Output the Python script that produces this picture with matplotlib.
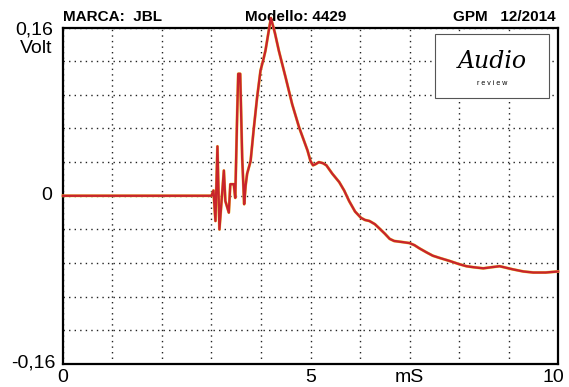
"""Impulse response plot (Audio Review style measurement sheet)."""

import matplotlib.pyplot as plt
from matplotlib.patches import Rectangle

plt.rcParams["font.family"] = ["Liberation Sans", "DejaVu Sans"]

# time in ms, signal in volt
time_ms = [0.0, 3.0, 3.04, 3.08, 3.12, 3.16, 3.25, 3.28, 3.35, 3.38, 3.45, 3.48,
           3.52, 3.54, 3.58, 3.62, 3.66, 3.69, 3.72, 3.79, 3.85, 3.92, 3.99,
           4.05, 4.09, 4.15, 4.2, 4.28, 4.36, 4.5, 4.63, 4.77, 4.94, 5.0, 5.05,
           5.1, 5.17, 5.25, 5.32, 5.44, 5.58, 5.68, 5.78, 5.9, 6.02, 6.1, 6.19,
           6.3, 6.39, 6.5, 6.6, 6.69, 6.85, 7.0, 7.1, 7.2, 7.35, 7.47, 7.6,
           7.81, 8.0, 8.15, 8.3, 8.49, 8.65, 8.82, 9.0, 9.09, 9.3, 9.5, 9.75,
           10.0]
volt = [0.0, 0.0, 0.005, -0.024, 0.047, -0.032, 0.024, -0.005, -0.016, 0.011,
        0.011, -0.002, 0.08, 0.116, 0.116, 0.036, -0.008, 0.01, 0.021, 0.033,
        0.062, 0.093, 0.119, 0.130, 0.138, 0.155, 0.169, 0.155, 0.138, 0.112,
        0.087, 0.065, 0.043, 0.033, 0.029, 0.030, 0.032, 0.031, 0.029, 0.021,
        0.013, 0.005, -0.005, -0.015, -0.021, -0.023, -0.024, -0.027, -0.031,
        -0.036, -0.041, -0.043, -0.044, -0.045, -0.047, -0.050, -0.054,
        -0.057, -0.059, -0.062, -0.065, -0.067, -0.068, -0.069, -0.068,
        -0.067, -0.069, -0.070, -0.072, -0.073, -0.073, -0.072]

brand = "MARCA:  JBL"
model = "Modello: 4429"
stamp = "GPM   12/2014"

fig = plt.figure(figsize=(5.69, 3.87), dpi=100)
ax = fig.add_axes([0.1107, 0.0594, 0.870, 0.8695])
ax.set_xlim(0, 10)
ax.set_ylim(-0.16, 0.16)

ax.set_xticks(range(0, 11))
ax.set_yticks([-0.16 + 0.032 * i for i in range(11)])
ax.grid(True, color="#222222", linestyle=(0, (1, 3)), linewidth=1.0)
ax.tick_params(length=0, labelbottom=False, labelleft=False)
for sp in ax.spines.values():
    sp.set_linewidth(1.6)

ax.plot(time_ms, volt, color="#f0d040", linewidth=2.1, clip_on=False, zorder=3,
        solid_joinstyle="round")
ax.plot(time_ms, volt, color="#c8242c", linewidth=1.7, clip_on=False, zorder=4,
        solid_joinstyle="round")

# axis annotations
fs = 14
ax.text(-0.2, 0.1535, "0,16", ha="right", va="baseline", fontsize=fs)
ax.text(-0.22, 0.1355, "Volt", ha="right", va="baseline", fontsize=fs)
ax.text(-0.22, 0.0, "0", ha="right", va="center", fontsize=fs)
ax.text(-0.16, -0.163, "-0,16", ha="right", va="baseline", fontsize=fs)
ax.text(0, -0.177, "0", ha="center", va="baseline", fontsize=fs)
ax.text(5, -0.177, "5", ha="center", va="baseline", fontsize=fs)
ax.text(7.0, -0.177, "mS", ha="center", va="baseline", fontsize=fs)
ax.text(9.9, -0.177, "10", ha="center", va="baseline", fontsize=fs)

ax.text(0, 1.01, brand, transform=ax.transAxes, ha="left", va="bottom",
        fontsize=11, fontweight="bold")
ax.text(0.47, 1.01, model, transform=ax.transAxes, ha="center", va="bottom",
        fontsize=11, fontweight="bold")
ax.text(0.995, 1.01, stamp, transform=ax.transAxes, ha="right", va="bottom",
        fontsize=11, fontweight="bold")

# logo box
ax.add_patch(Rectangle((0.752, 0.79), 0.23, 0.19, transform=ax.transAxes,
                       facecolor="white", edgecolor="#555555", linewidth=0.8, zorder=5))
ax.text(0.867, 0.9, "Audio", transform=ax.transAxes, ha="center", va="center",
        fontsize=17, style="italic", family="DejaVu Serif", zorder=6)
ax.text(0.867, 0.835, "r e v i e w", transform=ax.transAxes, ha="center", va="center",
        fontsize=5, zorder=6)

fig.savefig("out.png", dpi=100)
